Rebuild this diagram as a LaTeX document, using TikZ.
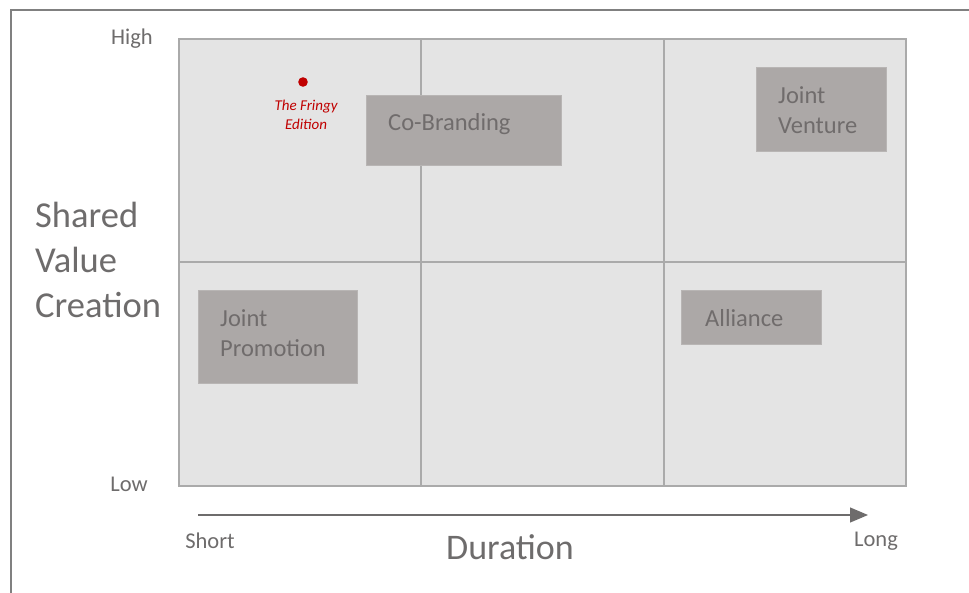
\documentclass[tikz,border=0pt]{standalone}
\usepackage{fontspec}
\setmainfont{Carlito}
\usepackage{xcolor}
\usetikzlibrary{arrows.meta}
\definecolor{FrameGrey}{RGB}{128,128,128}
\definecolor{FieldGrey}{RGB}{228,228,228}
\definecolor{LineGrey}{RGB}{170,170,170}
\definecolor{BoxGrey}{RGB}{172,168,167}
\definecolor{TextGrey}{RGB}{110,108,108}
\definecolor{BoxText}{RGB}{112,108,108}
\definecolor{MarkRed}{RGB}{192,0,0}

\begin{document}
\begin{tikzpicture}[x=1pt,y=-1pt,>=Latex,
    grid line/.style={line width=1.8pt,LineGrey},
    box/.style={fill=BoxGrey,draw=BoxGrey!85!white,line width=0.8pt},
    box text/.style={anchor=west,inner sep=0pt,align=left,text=BoxText,
      font=\fontsize{24.5}{29.5}\selectfont},
    axis text/.style={inner sep=0pt,text=TextGrey,font=\fontsize{22.5}{26}\selectfont}]
  \useasboundingbox (0,0) rectangle (969,593);

  % Marco exterior (solo lados izquierdo y superior)
  \draw[line width=2pt,FrameGrey] (11,593) -- (11,10) -- (969,10);

  % Matriz 3x2
  \fill[FieldGrey] (179,39) rectangle (906,486);
  \draw[grid line] (179,39) rectangle (906,486);
  \draw[grid line] (421,39) -- (421,486);
  \draw[grid line] (664,39) -- (664,486);
  \draw[grid line] (179,262) -- (906,262);

  % Cajas de tipos de colaboración
  \draw[box] (366,95) rectangle (561,165);
  \node[box text] (cobranding) at (388,124) {Co-Branding};
  \draw[box] (756,67) rectangle (886,151);
  \node[box text] (venture) at (778,110) {Joint\\Venture};
  \draw[box] (198,290) rectangle (357,383);
  \node[box text] (promotion) at (220,333) {Joint\\Promotion};
  \draw[box] (681,290) rectangle (821,344);
  \node[box text] (alliance) at (705,318) {Alliance};

  % Punto marcado
  \fill[MarkRed] (303,82) circle (4.8);
  \node[align=center,inner sep=0pt,text=MarkRed,
    font=\fontsize{15}{19.5}\selectfont\itshape] (fringy) at (306,115) {The Fringy\\Edition};

  % Eje vertical
  \node[axis text,anchor=east] (high) at (153,39) {High};
  \node[axis text,anchor=east] (low) at (148,484) {Low};
  \node[inner sep=0pt,anchor=west,align=left,text=TextGrey,
    font=\fontsize{36.5}{45}\selectfont] (shared) at (35,260) {Shared\\Value\\Creation};

  % Eje horizontal
  \coordinate (start) at (198,515);
  \coordinate (stop) at (868,515);
  \draw[-{Triangle[length=18pt,width=15pt]},line width=1.2pt,TextGrey] (start) -- (stop);
  \node[axis text] (short) at (210,541) {Short};
  \node[axis text] (long) at (876,541) {Long};
  \node[inner sep=0pt,text=TextGrey,font=\fontsize{36}{42}\selectfont] (duration) at (510,547) {Duration};
\end{tikzpicture}
\end{document}
